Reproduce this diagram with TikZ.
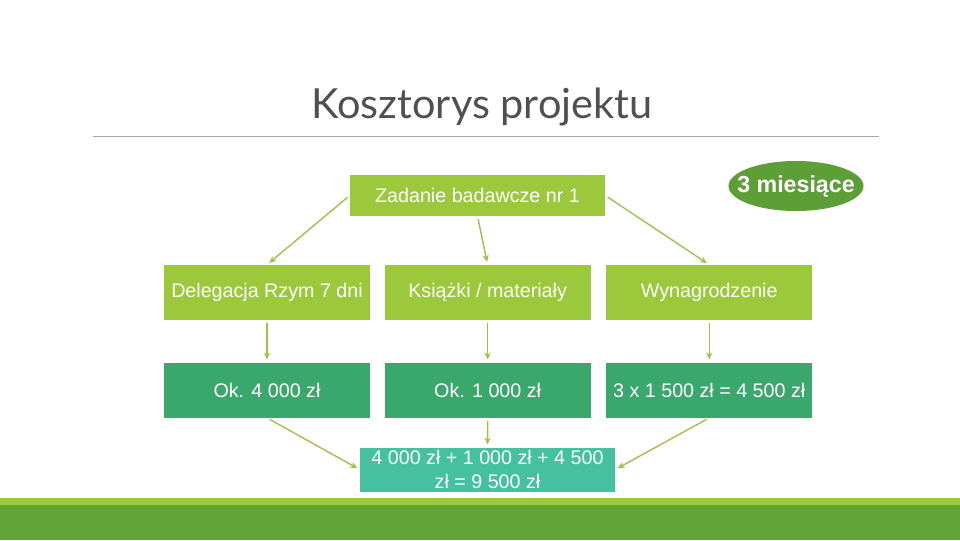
\documentclass[tikz,border=0pt]{standalone}
\usepackage{fontspec}
\setmainfont{Liberation Sans}
\newfontfamily\titlefont{Lato}
\usepackage{xcolor}
\usetikzlibrary{positioning,arrows.meta,shapes.geometric}

\definecolor{leafgreen}{HTML}{9BC93B}
\definecolor{moneygreen}{HTML}{3AA76D}
\definecolor{sumteal}{HTML}{45C1A0}
\definecolor{ovalgreen}{HTML}{5E9E37}
\definecolor{bandgreen}{HTML}{62A537}
\definecolor{linkgreen}{HTML}{9BC449}
\definecolor{titlegray}{HTML}{505050}

\tikzset{
  costbox/.style={rectangle, fill=#1, text=white, minimum width=5.15cm,
    minimum height=1.375cm, inner sep=2pt, font=\fontsize{14}{17}\selectfont},
  link/.style={draw=linkgreen, line width=1pt, shorten <=2pt, shorten >=2pt,
    -{Stealth[length=5pt,width=4.5pt]}}
}

\begin{document}
\begin{tikzpicture}[x=0.025cm, y=-0.025cm]
    \useasboundingbox (0,0) rectangle (960,540);
    % bottom band
    \fill[leafgreen] (0,498) rectangle (960,506);
    \fill[bandgreen] (0,505) rectangle (960,540);

    % title and rule
    \node[text=titlegray, font=\titlefont\fontsize{29.5}{34}\selectfont] (title) at (482,107) {Kosztorys projektu};
    \draw[gray!70, line width=0.6pt] (93,136) -- (879,136);

    \node[costbox=leafgreen, minimum width=6.375cm, minimum height=1.025cm] (task) at (477.5,195.5) {Zadanie badawcze nr 1};
    \node[ellipse, fill=ovalgreen, text=white, minimum width=3.375cm, minimum height=1.25cm,
      inner xsep=-9pt, inner ysep=0pt,
      font=\bfseries\fontsize{16.5}{19}\selectfont] (months) at (796,186) {3 miesiące};

    \node[costbox=leafgreen] (trip) at (267,292.5) {Delegacja Rzym 7 dni};
    \node[costbox=leafgreen, right=0.35cm of trip] (books) {Książki / materiały};
    \node[costbox=leafgreen, right=0.375cm of books] (salary) {Wynagrodzenie};

    \node[costbox=moneygreen, below=1.05cm of trip] (tripcost) {Ok. 4 000 zł};
    \node[costbox=moneygreen, below=1.05cm of books] (bookscost) {Ok. 1 000 zł};
    \node[costbox=moneygreen, below=1.05cm of salary] (salarycost) {3 x 1 500 zł = 4 500 zł};

    \node[costbox=sumteal, minimum width=6.375cm, minimum height=1.075cm, align=center,
      font=\fontsize{14}{17}\selectfont] (total) at (487.5,469.5) {4 000 zł + 1 000 zł + 4 500\\zł = 9 500 zł};

    \draw[link] (task.west) -- (trip.north);
    \draw[link] (task.south) -- (books.north);
    \draw[link] (task.east) -- (salary.north);
    \draw[link] (trip.south) -- (tripcost.north);
    \draw[link] (books.south) -- (bookscost.north);
    \draw[link] (salary.south) -- (salarycost.north);
    \draw[link] (tripcost.south) -- (total.west);
    \draw[link] (bookscost.south) -- (total.north);
    \draw[link] (salarycost.south) -- (total.east);
\end{tikzpicture}
\end{document}
